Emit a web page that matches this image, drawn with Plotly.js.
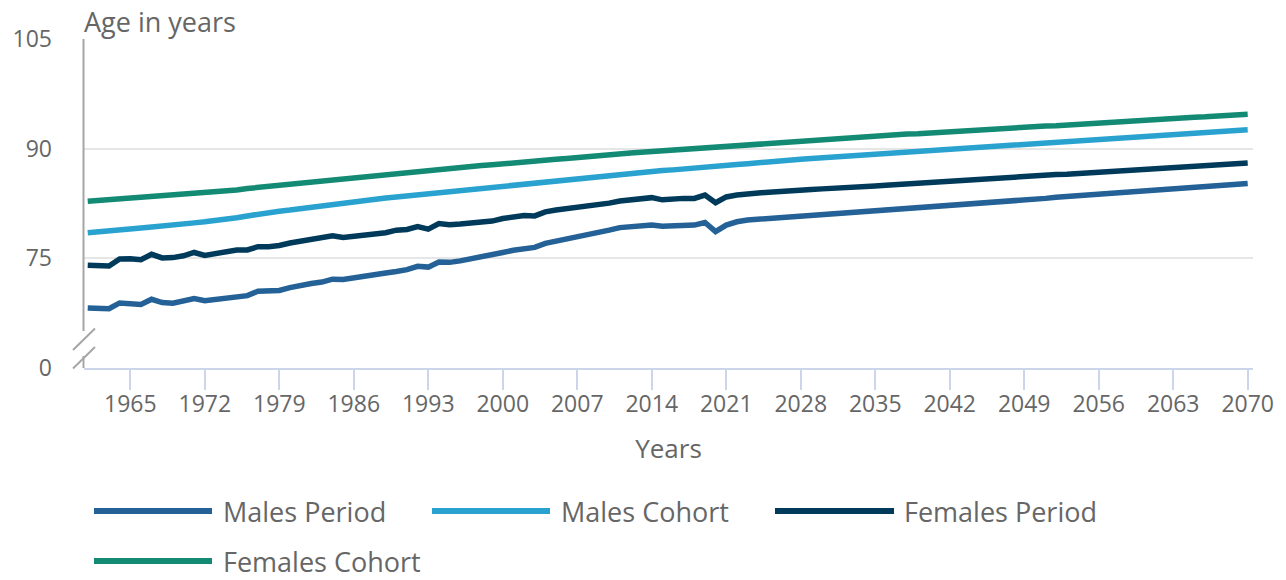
<!DOCTYPE html>
<html><head><meta charset="utf-8">
<script src="https://cdn.plot.ly/plotly-3.0.1.min.js"></script>
<style>html,body{margin:0;padding:0;background:#fff}#chart{width:1286px;height:580px}</style>
</head><body><div id="chart"></div>
<script>
// ---------- data ----------
const years = Array.from({length: 110}, (_, i) => 1961 + i);

const malesPeriod = [
  68.2, 68.2, 68.1, 68.9, 68.85, 68.7, 69.4, 68.95, 68.85, 69.1,
  69.5, 69.2, 69.4, 69.6, 69.85, 69.9, 70.5, 70.5, 70.6, 71.0,
  71.35, 71.55, 71.75, 72.15, 72.1, 72.35, 72.65, 72.75, 73.0, 73.2,
  73.45, 73.9, 73.8, 74.5, 74.45, 74.65, 74.9, 75.15, 75.4, 75.8,
  76.1, 76.3, 76.5, 77.05, 77.35, 77.65, 77.9, 78.1, 78.45, 78.85,
  79.2, 79.35, 79.4, 79.55, 79.4, 79.5, 79.55, 79.55, 79.9, 78.65,
  79.55, 80.0, 80.25, 80.35, 80.45, 80.55, 80.65, 80.75, 80.85, 80.95,
  81.05, 81.15, 81.3, 81.4, 81.5, 81.6, 81.7, 81.8, 81.95, 82.05,
  82.15, 82.25, 82.35, 82.45, 82.55, 82.7, 82.8, 82.9, 83.0, 83.1,
  83.2, 83.35, 83.45, 83.55, 83.65, 83.75, 83.85, 83.95, 84.1, 84.2,
  84.3, 84.4, 84.5, 84.6, 84.7, 84.85, 84.95, 85.05, 85.15, 85.25
];
const malesCohort = [
  78.5, 78.6, 78.7, 78.85, 79.0, 79.15, 79.3, 79.4, 79.55, 79.7,
  79.85, 80.0, 80.15, 80.3, 80.55, 80.8, 81.05, 81.3, 81.45, 81.6,
  81.8, 81.95, 82.15, 82.3, 82.5, 82.7, 82.9, 83.05, 83.25, 83.4,
  83.55, 83.7, 83.85, 84.0, 84.15, 84.3, 84.45, 84.6, 84.75, 84.9,
  85.05, 85.2, 85.35, 85.5, 85.65, 85.8, 85.95, 86.1, 86.25, 86.4,
  86.5, 86.65, 86.75, 86.9, 87.0, 87.1, 87.25, 87.35, 87.5, 87.6,
  87.7, 87.85, 87.95, 88.1, 88.2, 88.3, 88.45, 88.55, 88.65, 88.75,
  88.85, 88.95, 89.05, 89.1, 89.2, 89.3, 89.4, 89.5, 89.6, 89.7,
  89.8, 89.9, 90.0, 90.1, 90.2, 90.3, 90.4, 90.45, 90.55, 90.65,
  90.75, 90.85, 90.95, 91.05, 91.15, 91.25, 91.35, 91.45, 91.55, 91.65,
  91.7, 91.8, 91.9, 92.0, 92.1, 92.2, 92.3, 92.4, 92.5, 92.6
];
const femalesPeriod = [
  74.05, 74.05, 73.95, 74.9, 74.95, 74.8, 75.55, 75.05, 75.1, 75.35,
  75.8, 75.4, 75.65, 75.9, 76.15, 76.15, 76.6, 76.6, 76.75, 77.1,
  77.35, 77.45, 77.7, 78.1, 77.85, 78.0, 78.3, 78.45, 78.5, 78.85,
  78.95, 79.35, 79.0, 79.75, 79.6, 79.7, 79.85, 80.05, 80.1, 80.45,
  80.7, 80.85, 80.8, 81.35, 81.6, 81.8, 82.0, 82.05, 82.35, 82.55,
  82.85, 83.0, 83.0, 83.3, 83.0, 83.15, 83.2, 83.2, 83.65, 82.6,
  83.4, 83.65, 83.85, 83.95, 84.05, 84.1, 84.2, 84.3, 84.4, 84.5,
  84.55, 84.65, 84.75, 84.85, 84.9, 85.0, 85.1, 85.2, 85.3, 85.35,
  85.45, 85.55, 85.65, 85.7, 85.8, 85.9, 86.0, 86.1, 86.15, 86.25,
  86.35, 86.45, 86.5, 86.6, 86.7, 86.8, 86.9, 86.95, 87.05, 87.15,
  87.25, 87.3, 87.4, 87.5, 87.6, 87.7, 87.75, 87.85, 87.95, 88.05
];
const femalesCohort = [
  82.8, 82.9, 83.0, 83.1, 83.25, 83.35, 83.45, 83.55, 83.65, 83.75,
  83.9, 84.0, 84.1, 84.25, 84.35, 84.55, 84.7, 84.85, 85.0, 85.15,
  85.3, 85.45, 85.6, 85.75, 85.9, 86.05, 86.2, 86.35, 86.5, 86.65,
  86.8, 86.95, 87.1, 87.2, 87.35, 87.45, 87.6, 87.7, 87.8, 87.95,
  88.05, 88.2, 88.3, 88.4, 88.55, 88.65, 88.8, 88.9, 89.0, 89.15,
  89.25, 89.4, 89.5, 89.6, 89.75, 89.85, 90.0, 90.1, 90.2, 90.35,
  90.45, 90.55, 90.65, 90.75, 90.85, 90.95, 91.05, 91.15, 91.2, 91.3,
  91.4, 91.45, 91.55, 91.65, 91.75, 91.8, 91.9, 92.0, 92.05, 92.15,
  92.25, 92.3, 92.4, 92.5, 92.6, 92.65, 92.75, 92.85, 92.9, 93.0,
  93.1, 93.15, 93.25, 93.35, 93.45, 93.5, 93.6, 93.7, 93.75, 93.85,
  93.95, 94.0, 94.1, 94.2, 94.3, 94.35, 94.45, 94.55, 94.6, 94.7
];

const seriesNames = ['Males Period', 'Males Cohort', 'Females Period', 'Females Cohort'];
const xTickVals = [1965, 1972, 1979, 1986, 1993, 2000, 2007, 2014, 2021, 2028, 2035, 2042, 2049, 2056, 2063, 2070];
const yTickVals = [60, 75, 90, 105];
const yTickText = ['0', '75', '90', '105'];
const yAxisLabel = 'Age in years';
const xAxisLabel = 'Years';

// ---------- styling / geometry ----------
const colors = ['#236196', '#29a2cf', '#003a5b', '#138a74'];
const W = 1286, H = 580, ML = 84, MR = 33, MT = 39, MB = 212;
const PW = W - ML - MR, PH = H - MT - MB;
const px = x => (x - ML) / PW;
const py = y => (H - MB - y) / PH;
const textColor = '#666666';
const FONT = '"Open Sans", "Noto Sans", sans-serif';

const seriesValues = [malesPeriod, malesCohort, femalesPeriod, femalesCohort];
const traces = seriesValues.map((vals, i) => ({
  type: 'scatter', mode: 'lines', name: seriesNames[i],
  x: years, y: vals,
  line: {color: colors[i], width: 5.5},
  hoverinfo: 'x+y+name'
}));

const shapes = [];
const annotations = [];
const axisGray = '#a6a6a6';
// broken y-axis line
shapes.push({type: 'line', xref: 'paper', yref: 'paper', x0: px(83.5), x1: px(83.5), y0: py(39), y1: py(331), line: {color: axisGray, width: 2}});
shapes.push({type: 'line', xref: 'paper', yref: 'paper', x0: px(83.5), x1: px(83.5), y0: py(356), y1: py(368), line: {color: axisGray, width: 2}});
shapes.push({type: 'line', xref: 'paper', yref: 'paper', x0: px(73), x1: px(95), y0: py(350), y1: py(328.5), line: {color: axisGray, width: 2}});
shapes.push({type: 'line', xref: 'paper', yref: 'paper', x0: px(73), x1: px(95), y0: py(368.5), y1: py(347), line: {color: axisGray, width: 2}});

// custom legend
const legendPos = [
  {x0: 94, x1: 212, tx: 222, y: 511},
  {x0: 432, x1: 550, tx: 560, y: 511},
  {x0: 775, x1: 894, tx: 903, y: 511},
  {x0: 94, x1: 212, tx: 222, y: 561}
];
seriesNames.forEach((n, i) => {
  const p = legendPos[i];
  shapes.push({type: 'line', xref: 'paper', yref: 'paper', x0: px(p.x0), x1: px(p.x1), y0: py(p.y), y1: py(p.y), line: {color: colors[i], width: 6}});
  annotations.push({xref: 'paper', yref: 'paper', x: px(p.tx), y: py(p.y), xanchor: 'left', yanchor: 'middle', showarrow: false, borderpad: 0, text: n, font: {family: FONT, size: 27, color: textColor}});
});
annotations.push({xref: 'paper', yref: 'paper', x: px(82), y: py(22), xanchor: 'left', yanchor: 'middle', showarrow: false, text: yAxisLabel, font: {family: FONT, size: 27, color: textColor}});

const layout = {
  width: W, height: H,
  margin: {l: ML, r: MR, t: MT, b: MB, pad: 0},
  paper_bgcolor: '#ffffff', plot_bgcolor: '#ffffff',
  font: {family: FONT, color: textColor},
  showlegend: false,
  xaxis: {
    range: [1960.65, 2070.5], tickmode: 'array', tickvals: xTickVals,
    ticks: 'outside', ticklen: 20, tickwidth: 2, tickcolor: '#ccd6eb',
    showline: true, linecolor: '#ccd6eb', linewidth: 2,
    showgrid: false, zeroline: false, automargin: false,
    ticklabelstandoff: -6,
    tickfont: {family: FONT, size: 23, color: textColor},
    title: {text: xAxisLabel, font: {family: FONT, size: 26, color: textColor}, standoff: 22}
  },
  yaxis: {
    range: [60, 105], tickmode: 'array', tickvals: yTickVals, ticktext: yTickText,
    showgrid: true, gridcolor: '#e6e6e6', gridwidth: 2,
    zeroline: false, showline: false, ticks: '', automargin: false,
    ticklabelstandoff: 31,
    tickfont: {family: FONT, size: 23, color: textColor}
  },
  shapes: shapes,
  annotations: annotations
};

Plotly.newPlot('chart', traces, layout, {displayModeBar: false, staticPlot: false});
</script>
</body></html>
